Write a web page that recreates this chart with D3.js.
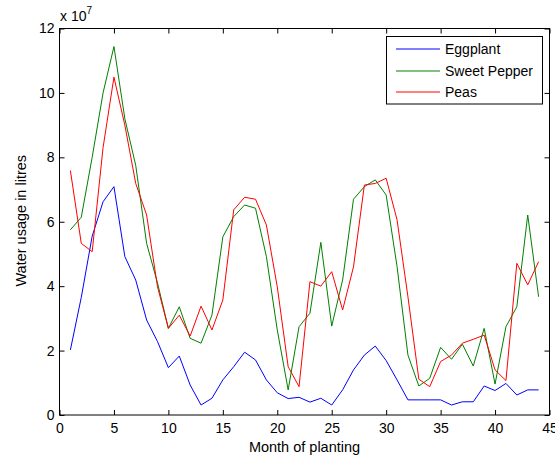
<!DOCTYPE html>
<html>
<head>
<meta charset="utf-8">
<script src="https://cdn.jsdelivr.net/npm/d3@7"></script>
<style>
  html, body { margin: 0; padding: 0; background: #fff; }
  svg { display: block; font-family: "Liberation Sans", Arial, sans-serif; }
</style>
</head>
<body>
<svg id="chart" width="555" height="458"></svg>
<script>
// Monthly water usage (in units of 1e7 litres) by month of planting
const months = d3.range(1, 45);
const eggplant = [2.02, 3.65, 5.55, 6.62, 7.09, 4.92, 4.19, 2.95, 2.28, 1.47,
  1.83, 0.93, 0.31, 0.52, 1.09, 1.50, 1.95, 1.71, 1.09, 0.69,
  0.51, 0.55, 0.40, 0.52, 0.31, 0.78, 1.40, 1.86, 2.14, 1.69,
  1.09, 0.47, 0.47, 0.47, 0.47, 0.31, 0.41, 0.41, 0.90, 0.76,
  0.98, 0.62, 0.78, 0.78];
const sweetPepper = [5.75, 6.14, 8.00, 10.00, 11.44, 9.20, 7.75, 5.33, 4.10, 2.69,
  3.36, 2.38, 2.23, 3.10, 5.53, 6.16, 6.52, 6.42, 4.92, 2.64,
  0.78, 2.74, 3.16, 5.36, 2.76, 4.19, 6.70, 7.09, 7.30, 6.83,
  4.61, 1.86, 0.90, 1.14, 2.10, 1.73, 2.20, 1.52, 2.69, 0.96,
  2.74, 3.36, 6.21, 3.67];
const peas = [7.59, 5.33, 5.07, 8.30, 10.49, 9.00, 7.19, 6.21, 3.98, 2.69,
  3.10, 2.45, 3.38, 2.64, 3.57, 6.37, 6.76, 6.70, 5.90, 3.98,
  1.50, 0.88, 4.14, 4.00, 4.45, 3.26, 4.60, 7.14, 7.19, 7.35,
  6.06, 3.67, 1.11, 0.88, 1.66, 1.86, 2.23, 2.35, 2.48, 1.40,
  1.07, 4.71, 4.04, 4.76];

const seriesNames = ["Eggplant", "Sweet Pepper", "Peas"];
const seriesColors = ["#0000ff", "#008000", "#ff0000"];
const seriesValues = [eggplant, sweetPepper, peas];
const xTicks = [0, 5, 10, 15, 20, 25, 30, 35, 40, 45];
const yTicks = [0, 2, 4, 6, 8, 10, 12];

const svg = d3.select("#chart");
const plotLeft = 59.5, plotRight = 549.5, plotTop = 28.5, plotBottom = 415;

const x = d3.scaleLinear().domain([0, 45]).range([plotLeft, plotRight]);
const y = d3.scaleLinear().domain([0, 12]).range([plotBottom, plotTop]);

const tickLen = 5;
const fontSize = "14px";

// Axes with inward ticks on all four sides
const axisStyle = g => {
  g.select(".domain").remove();
  g.selectAll(".tick line").attr("stroke", "#000").attr("stroke-width", 1);
  g.selectAll(".tick text").attr("fill", "#000").style("font-size", fontSize)
    .style("font-family", "'Liberation Sans', Arial, sans-serif");
};

svg.append("g").attr("transform", `translate(0,${plotBottom})`)
  .call(d3.axisBottom(x).tickValues(xTicks).tickFormat(d3.format("d"))
    .tickSizeInner(-tickLen).tickSizeOuter(0).tickPadding(8))
  .call(axisStyle);
svg.append("g").attr("transform", `translate(0,${plotTop})`)
  .call(d3.axisTop(x).tickValues(xTicks).tickFormat("")
    .tickSizeInner(-tickLen).tickSizeOuter(0))
  .call(axisStyle);
svg.append("g").attr("transform", `translate(${plotLeft},0)`)
  .call(d3.axisLeft(y).tickValues(yTicks).tickFormat(d3.format("d"))
    .tickSizeInner(-tickLen).tickSizeOuter(0).tickPadding(5))
  .call(axisStyle);
svg.append("g").attr("transform", `translate(${plotRight},0)`)
  .call(d3.axisRight(y).tickValues(yTicks).tickFormat("")
    .tickSizeInner(-tickLen).tickSizeOuter(0))
  .call(axisStyle);

// Series lines
const line = d3.line().x((d, i) => x(months[i])).y(d => y(d));
seriesValues.forEach((vals, k) => {
  svg.append("path")
    .datum(vals)
    .attr("fill", "none")
    .attr("stroke", seriesColors[k])
    .attr("stroke-width", 1)
    .attr("d", line);
});

// Plot frame
svg.append("rect")
  .attr("x", plotLeft).attr("y", plotTop)
  .attr("width", plotRight - plotLeft).attr("height", plotBottom - plotTop)
  .attr("fill", "none").attr("stroke", "#000").attr("stroke-width", 1);

// Exponent label
const expo = svg.append("text").attr("x", 60).attr("y", 21)
  .style("font-size", fontSize).attr("fill", "#000");
expo.append("tspan").text("x 10");
expo.append("tspan").attr("dy", -7).style("font-size", "10px").text("7");

// Axis titles
svg.append("text")
  .attr("x", (plotLeft + plotRight) / 2).attr("y", 452)
  .attr("text-anchor", "middle").style("font-size", "14.5px")
  .text("Month of planting");
svg.append("text")
  .attr("transform", `translate(25.5,${(plotTop + plotBottom) / 2 - 1}) rotate(-90)`)
  .attr("text-anchor", "middle").style("font-size", "14.5px")
  .text("Water usage in litres");

// Legend
const legend = svg.append("g");
legend.append("rect")
  .attr("x", 386.5).attr("y", 36.5).attr("width", 156).attr("height", 67.5)
  .attr("fill", "#fff").attr("stroke", "#000").attr("stroke-width", 1);
const rowY = [49, 71, 92];
seriesNames.forEach((name, k) => {
  legend.append("line")
    .attr("x1", 396).attr("x2", 440).attr("y1", rowY[k]).attr("y2", rowY[k])
    .attr("stroke", seriesColors[k]).attr("stroke-width", 1);
  legend.append("text")
    .attr("x", 445).attr("y", rowY[k]).attr("dy", "0.35em")
    .style("font-size", fontSize).text(name);
});
</script>
</body>
</html>
